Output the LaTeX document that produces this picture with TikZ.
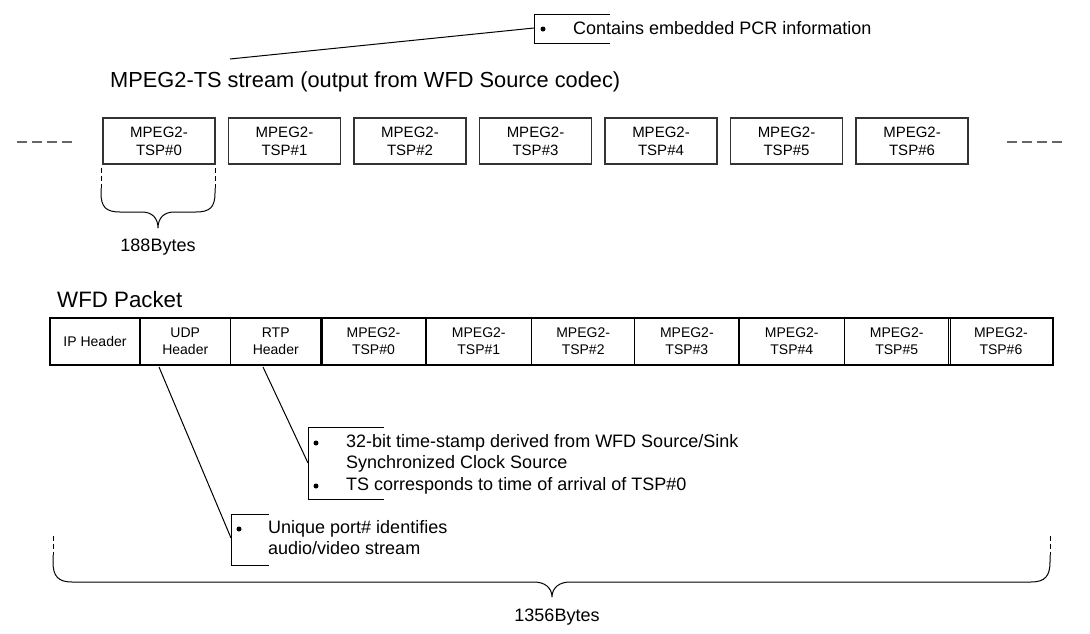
\documentclass[tikz,border=0pt]{standalone}
\usepackage{fontspec}
\setmainfont{Liberation Sans}
\begin{document}
\begin{tikzpicture}[x=1pt,y=-1pt,
  tsp/.style={draw=black!80, line width=1.3pt, minimum width=112pt, minimum height=46pt, inner sep=0pt, align=center, font=\fontsize{15}{18}\selectfont},
  cell/.style={draw=black, line width=1.2pt, minimum height=47pt, inner sep=0pt, align=center, font=\fontsize{14}{17}\selectfont},
  lbl/.style={inner sep=0pt, font=\fontsize{18}{21.5}\selectfont},
  ttl/.style={inner sep=0pt, anchor=west, font=\fontsize{21.8}{25}\selectfont},
  ln/.style={line width=1pt},
  dsh/.style={draw=black!60, line width=1.5pt, dash pattern=on 10pt off 5pt},
  tick/.style={line width=1pt, dash pattern=on 5pt off 3pt},
  brack/.style={line width=1pt},
  dot/.style={circle, fill=black, inner sep=0pt, minimum size=5pt},
]
\useasboundingbox (0,0) rectangle (1090,633);

% ---------- top section ----------
\node[ttl] (title) at (110,82) {MPEG2-TS stream (output from WFD Source codec)};

\node[tsp] (t0) at (159,141)   {MPEG2-\\TSP\#0};
\node[tsp] (t1) at (284.5,141) {MPEG2-\\TSP\#1};
\node[tsp] (t2) at (410,141)   {MPEG2-\\TSP\#2};
\node[tsp] (t3) at (535.5,141) {MPEG2-\\TSP\#3};
\node[tsp] (t4) at (661,141)   {MPEG2-\\TSP\#4};
\node[tsp] (t5) at (786.5,141) {MPEG2-\\TSP\#5};
\node[tsp] (t6) at (912,141)   {MPEG2-\\TSP\#6};

\draw[dsh] (17,142) -- (72,142);
\draw[dsh] (1007,142) -- (1062,142);

% top callout
\coordinate (pcrfrom) at (230,59);
\coordinate (pcrbr) at (534,28);
\draw[brack] (610,14) -- (534,14) -- (534,43) -- (610,43);
\draw[ln] (pcrfrom) -- (pcrbr);
\node[dot] (pcrb) at (543,29) {};
\node[lbl, anchor=west] (pcrt) at (573,28.5) {Contains embedded PCR information};

% 188 bytes brace
\draw[tick] (101,168) -- (101,188);
\draw[tick] (215,168) -- (215,188);
\draw[brack] (101,188) -- (101,193) .. controls (101,207) and (106,212) .. (120,212)
  -- (142,212) .. controls (152,212) and (158,218) .. (158,228)
  .. controls (158,218) and (164,212) .. (174,212)
  -- (196,212) .. controls (210,212) and (215,207) .. (215,193) -- (215,188);
\node[lbl] (b188) at (158,247) {188Bytes};

% ---------- bottom section ----------
\node[ttl, font=\fontsize{22.3}{26}\selectfont] (wfd) at (57,300) {WFD Packet};

\node[cell, minimum width=90pt]   (ip)  at (95,341.5)    {IP Header};
\node[cell, minimum width=90.5pt] (udp) at (185.25,341.5) {UDP\\Header};
\node[cell, minimum width=90.5pt] (rtp) at (275.75,341.5) {RTP\\Header};
\node[cell, minimum width=105pt]  (p0)  at (373.5,341.5)  {MPEG2-\\TSP\#0};
\node[cell, minimum width=105.6pt](p1)  at (478.8,341.5)  {MPEG2-\\TSP\#1};
\node[cell, minimum width=103.1pt](p2)  at (583.15,341.5) {MPEG2-\\TSP\#2};
\node[cell, minimum width=104.3pt](p3)  at (686.85,341.5) {MPEG2-\\TSP\#3};
\node[cell, minimum width=105.6pt](p4)  at (791.8,341.5)  {MPEG2-\\TSP\#4};
\node[cell, minimum width=104.2pt](p5)  at (896.7,341.5)  {MPEG2-\\TSP\#5};
\node[cell, minimum width=104.2pt](p6)  at (1000.9,341.5) {MPEG2-\\TSP\#6};
\draw[line width=1pt] ([xshift=2.5pt]p0.north west) -- ([xshift=2.5pt]p0.south west);
\draw[line width=1pt] ([xshift=2.5pt]p6.north west) -- ([xshift=2.5pt]p6.south west);

% RTP callout
\coordinate (rtpfrom) at (263,367);
\coordinate (rtpbr) at (308,463);
\draw[brack] (384,427) -- (308,427) -- (308,499) -- (384,499);
\draw[ln] (rtpfrom) -- (rtpbr);
\node[dot] (rb1) at (316,443) {};
\node[lbl, anchor=north west, align=left] (rt1) at (346,434) {32-bit time-stamp derived from WFD Source/Sink\\Synchronized Clock Source};
\node[dot] (rb2) at (316,486) {};
\node[lbl, anchor=west] (rt2) at (346,486) {TS corresponds to time of arrival of TSP\#0};

% UDP callout
\coordinate (udpfrom) at (159,367);
\coordinate (udpbr) at (231,538);
\draw[brack] (269,514) -- (231,514) -- (231,565) -- (269,565);
\draw[ln] (udpfrom) -- (udpbr);
\node[dot] (ub1) at (239,529) {};
\node[lbl, anchor=north west, align=left] (ut1) at (268,520) {Unique port\# identifies\\audio/video stream};

% 1356 bytes brace
\draw[tick] (53,536) -- (53,555);
\draw[tick] (1050,536) -- (1050,555);
\draw[brack] (53,555) -- (53,562) .. controls (53,576) and (58,582) .. (72,582)
  -- (534,582) .. controls (545,582) and (552,588) .. (552,597)
  .. controls (552,588) and (559,582) .. (570,582)
  -- (1031,582) .. controls (1045,582) and (1050,576) .. (1050,562) -- (1050,555);
\node[lbl] (b1356) at (557,617) {1356Bytes};
\end{tikzpicture}
\end{document}
